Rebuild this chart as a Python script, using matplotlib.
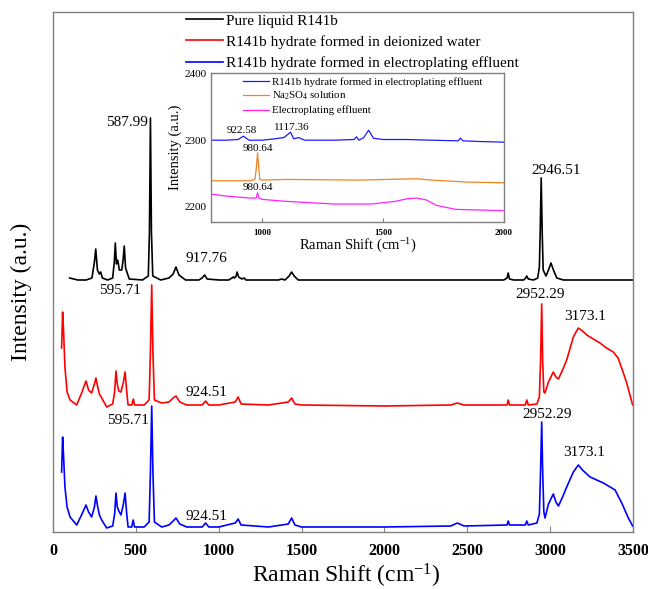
import matplotlib
matplotlib.use('Agg')
import matplotlib.pyplot as plt

plt.rcParams['font.family'] = ['Liberation Serif', 'DejaVu Serif']
plt.rcParams['mathtext.default'] = 'regular'

# ---- main spectra (Raman shift, intensity offset in a.u.) ----
x_black = [100, 150, 200, 235, 250, 258, 268, 280, 288, 298, 330, 360, 370, 376, 383, 388, 392, 400,
           415, 423, 430, 438, 460, 540, 575, 582, 588, 594, 602, 650, 700, 725, 742, 760, 800, 880,
           900, 915, 930, 1000, 1060, 1080, 1087, 1095, 1105, 1111, 1120, 1140, 1153, 1165, 1200,
           1360, 1380, 1400, 1425, 1440, 1455, 1480, 1600, 2000, 2400, 2720, 2740, 2747, 2755, 2780,
           2840, 2852, 2859, 2868, 2900, 2925, 2935, 2940, 2946, 2952, 2958, 2975, 2990, 3005, 3020,
           3040, 3080, 3200, 3500]
y_black = [254, 252, 252, 254, 270, 283, 262, 258, 260, 254, 252, 254, 270, 289, 268, 272, 271, 262,
           262, 272, 286, 264, 253, 252, 256, 300, 414, 300, 256, 252, 254, 258, 265, 257, 252, 252,
           254, 257, 253, 252, 252, 254, 255, 254, 256, 260, 255, 253, 254, 252, 252,
           252, 253, 252, 256, 260, 256, 252, 252, 252, 252, 252, 254, 259, 253, 252,
           252, 254, 256, 253, 252, 254, 265, 300, 354, 300, 262, 256, 262, 269, 262,
           254, 252, 252, 252]

x_red = [52, 58, 64, 72, 85, 103, 143, 175, 199, 215, 233, 250, 259, 270, 280, 294, 324, 360, 372,
         380, 388, 397, 410, 425, 435, 445, 453, 475, 485, 492, 550, 580, 588, 595.7, 603, 612, 656,
         700, 725, 742, 765, 807, 900, 921, 940, 1000, 1100, 1117, 1135, 1300, 1420, 1440, 1460,
         1500, 2000, 2400, 2440, 2480, 2740, 2747, 2755, 2850, 2859, 2868, 2920, 2935, 2942, 2949,
         2955, 2962, 2969, 2990, 3019, 3035, 3050, 3075, 3100, 3140, 3170, 3195, 3221, 3260, 3301,
         3340, 3381, 3410, 3440, 3462, 3480, 3498]
y_red = [184, 220, 200, 165, 140, 132, 127, 140, 151, 142, 139, 148, 154, 145, 138, 134, 125, 128, 140,
         161, 148, 141, 140, 150, 160, 140, 127, 127, 133, 127, 127, 132, 180, 247, 180, 132, 129,
         130, 134, 136, 130, 127, 127, 131, 127, 127, 130, 135, 128, 127, 130, 134, 128,
         127, 126, 127, 129, 127, 127, 132, 127, 127, 132, 127, 128, 135, 170, 228,
         170, 140, 139, 150, 160, 155, 153, 162, 172, 195, 204, 201, 197, 193, 189,
         184, 180, 174, 160, 149, 138, 127]

x_blue = [52, 58, 64, 72, 85, 103, 143, 175, 199, 215, 233, 250, 259, 270, 280, 294, 324, 360, 372,
          380, 388, 397, 410, 425, 435, 445, 453, 475, 484, 492, 550, 580, 588, 595.7, 603, 612, 656,
          700, 725, 742, 765, 807, 900, 921, 940, 1000, 1100, 1117, 1135, 1300, 1420, 1440, 1460,
          1500, 2000, 2400, 2440, 2480, 2740, 2747, 2755, 2850, 2859, 2868, 2920, 2935, 2942, 2949,
          2955, 2962, 2969, 2990, 3019, 3035, 3050, 3075, 3100, 3140, 3170, 3195, 3241, 3321, 3392,
          3432, 3472, 3498]
y_blue = [60, 95, 75, 45, 25, 15, 7, 18, 27, 20, 15, 25, 36, 25, 17, 12, 4, 6, 18,
          39, 25, 21, 17, 28, 39, 18, 5, 5, 12, 5, 5, 10, 60, 126, 60, 10, 5,
          7, 11, 14, 8, 5, 5, 9, 5, 5, 9, 13, 7, 5, 8, 14, 7,
          5, 5, 6, 9, 6, 7, 11, 7, 7, 11, 7, 9, 18, 60, 110,
          60, 20, 14, 28, 38, 30, 26, 35, 45, 60, 67, 62, 55, 49, 42,
          29, 14, 6]

# ---- inset spectra ----
xi_blue = [788, 850, 900, 922, 945, 1000, 1050, 1090, 1117, 1130, 1150, 1175, 1300, 1380, 1390, 1400,
           1420, 1440, 1460, 1500, 1600, 1700, 1810, 1820, 1830, 1900, 2000]
yi_blue = [2300, 2300, 2301, 2306, 2300, 2300, 2302, 2304, 2312, 2302, 2304, 2300, 2300, 2301, 2305, 2300,
           2304, 2315, 2303, 2301, 2301, 2300, 2299, 2303, 2299, 2298, 2297]
xi_orange = [788, 950, 970, 976, 980.6, 985, 990, 1000, 1100, 1400, 1640, 1700, 1850, 2000]
yi_orange = [2239, 2239, 2241, 2260, 2281, 2260, 2241, 2240, 2241, 2240, 2242, 2240, 2237, 2236]
xi_mag = [788, 850, 950, 975, 980.6, 986, 1000, 1100, 1300, 1450, 1550, 1600, 1640, 1680, 1720, 1800,
          1900, 2000]
yi_mag = [2219, 2216, 2213, 2213, 2221, 2213, 2211, 2208, 2204, 2204, 2208, 2212, 2213, 2210, 2202, 2196,
          2195, 2194]

main_labels = ['Pure liquid R141b', 'R141b hydrate formed in deionized water',
               'R141b hydrate formed in electroplating effluent']
inset_labels = ['R141b hydrate formed in electroplating effluent', 'Na$_2$SO$_4$ solution',
                'Electroplating effluent']

# peak annotations: (text, x, y)
main_notes = [('587.99', 575, 410, 'right'), ('595.71', 404, 242, 'center'),
              ('917.76', 923, 274, 'center'), ('2946.51', 3036, 362, 'center'),
              ('2952.29', 2939, 237, 'center'), ('3173.1', 3211, 215, 'center'),
              ('924.51', 923, 139, 'center'), ('595.71', 453, 112, 'center'),
              ('2952.29', 2981, 118, 'center'), ('3173.1', 3205, 79, 'center'),
              ('924.51', 923, 15, 'center')]
inset_notes = [('922.58', 917, 2314), ('1117.36', 1124, 2319),
               ('980.64', 983, 2288), ('980.64', 983, 2229)]

W, H = 648, 589
fig = plt.figure(figsize=(W / 100, H / 100), dpi=100)
ax = fig.add_axes([53 / W, 1 - 532 / H, 580 / W, 520 / H])

ax.plot(x_black, y_black, color='black', lw=1.2, label=main_labels[0])
ax.plot(x_red, y_red, color='#ff0000', lw=1.2, label=main_labels[1])
ax.plot(x_blue, y_blue, color='#0000ff', lw=1.2, label=main_labels[2])
ax.set_xlim(0, 3500)
ax.set_ylim(0, 520)
ax.set_yticks([])
ax.set_xticks([0, 500, 1000, 1500, 2000, 2500, 3000, 3500])
ax.tick_params(axis='x', direction='in', length=4, color='#808080', labelsize=11.5, pad=8)
for lbl in ax.get_xticklabels():
    lbl.set_fontweight('bold')
for s in ax.spines.values():
    s.set_color('#808080')
    s.set_linewidth(1.0)

for txt, x, y, ha in main_notes:
    ax.text(x, y, txt, fontsize=11, ha=ha, va='center')

ax.legend(loc='upper left', bbox_to_anchor=(186 / W, 1 - 14 / H), bbox_transform=fig.transFigure,
          frameon=False, fontsize=11, handlelength=2.4, handletextpad=0.2, labelspacing=0.48,
          borderpad=0, borderaxespad=0)

fig.text(21 / W, 1 - 292 / H, 'Intensity (a.u.)', rotation=90, fontsize=17, ha='center', va='center')
fig.text(346 / W, 1 - 576 / H, 'Raman Shift (cm$^{-1}$)', fontsize=17, ha='center', va='center')

# ---- inset ----
axi = fig.add_axes([211 / W, 1 - 222 / H, 293 / W, 149 / H])
axi.plot(xi_blue, yi_blue, color='#1a1aff', lw=0.9, label=inset_labels[0])
axi.plot(xi_orange, yi_orange, color='#f58220', lw=0.9, label=inset_labels[1])
axi.plot(xi_mag, yi_mag, color='#ff22ff', lw=0.9, label=inset_labels[2])
axi.set_xlim(788, 2000)
axi.set_ylim(2177, 2401)
axi.set_xticks([1000, 1500, 2000])
axi.set_yticks([2200, 2300, 2400])
axi.tick_params(axis='x', direction='in', length=3, color='#808080', labelsize=6.5, pad=5)
axi.tick_params(axis='y', direction='in', length=0, labelsize=8, pad=3)
for lbl in axi.get_xticklabels():
    lbl.set_fontweight('bold')
for s in axi.spines.values():
    s.set_color('#808080')
    s.set_linewidth(1.0)
axi.set_xlabel('Raman Shift (cm$^{-1}$)', fontsize=10.5, labelpad=0)
axi.set_ylabel('Intensity (a.u.)', fontsize=10.5, labelpad=2)

for txt, x, y in inset_notes:
    axi.text(x, y, txt, fontsize=8, ha='center', va='center')

axi.legend(loc='upper left', bbox_to_anchor=(243 / W, 1 - 77 / H), bbox_transform=fig.transFigure,
           frameon=False, fontsize=7.8, handlelength=2.4, handletextpad=0.3, labelspacing=0.3,
           borderpad=0, borderaxespad=0)

fig.savefig('out.png', dpi=100)
